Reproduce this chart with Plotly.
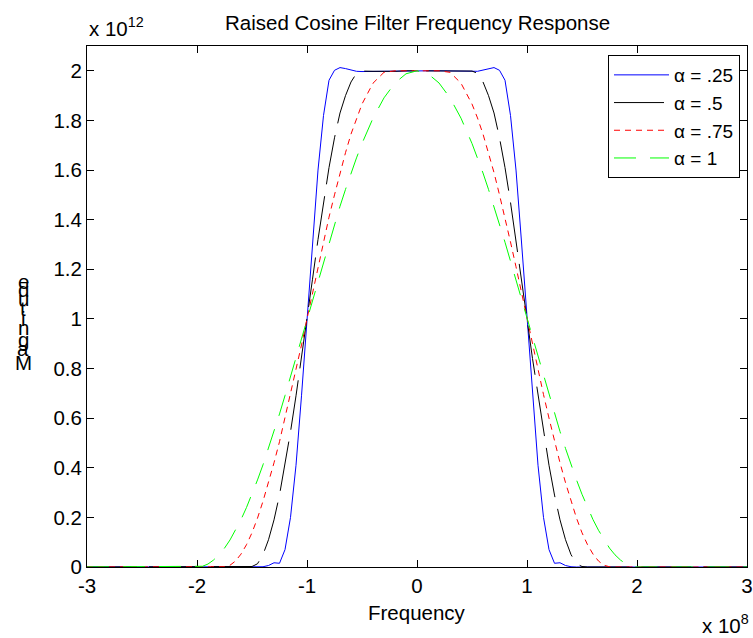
import plotly.graph_objects as go

# Frequency samples (units of 1e8 Hz), positive half; the response is symmetric
freq_half = [0, 0.1, 0.2, 0.3, 0.4, 0.5, 0.55, 0.6, 0.65, 0.7, 0.75, 0.8, 0.85, 0.9, 0.95,
             1.0, 1.05, 1.1, 1.15, 1.2, 1.25, 1.3, 1.35, 1.4, 1.45, 1.5, 1.55, 1.6, 1.65,
             1.7, 1.75, 1.8, 1.85, 1.9, 1.95, 2.0, 2.1, 2.5, 3.0]

# Magnitudes (units of 1e12)
mag_a025 = [2.0, 2.0, 2.0, 1.999, 1.998, 1.997, 1.998, 2.003, 2.009, 2.013, 2.002, 1.962, 1.82,
            1.60, 1.31, 1.0, 0.69, 0.41, 0.20, 0.07, 0.015, 0.017, 0.006, 0.001,
            0, 0, 0, 0, 0, 0, 0, 0, 0, 0, 0, 0, 0, 0, 0]
mag_a05 = [2.0, 2.0, 1.998, 1.997, 1.998, 1.999, 1.99, 1.955, 1.90, 1.83, 1.73, 1.61, 1.47,
           1.32, 1.16, 1.0, 0.84, 0.69, 0.545, 0.41, 0.29, 0.19, 0.11, 0.05, 0.013, 0.002,
           0, 0, 0, 0, 0, 0, 0, 0, 0, 0, 0, 0, 0]
mag_a075 = [2.0, 2.0, 2.0, 1.994, 1.95, 1.866, 1.81, 1.745, 1.67, 1.59, 1.50, 1.41, 1.31,
            1.21, 1.105, 1.0, 0.895, 0.795, 0.695, 0.60, 0.505, 0.42, 0.34, 0.265, 0.197,
            0.138, 0.09, 0.052, 0.024, 0.007, 0.001, 0, 0, 0, 0, 0, 0, 0, 0]
mag_a1 = [2.0, 1.988, 1.951, 1.891, 1.809, 1.707, 1.649, 1.588, 1.522, 1.454, 1.383, 1.309,
          1.233, 1.156, 1.078, 1.0, 0.922, 0.844, 0.767, 0.691, 0.617, 0.546, 0.478, 0.412,
          0.351, 0.293, 0.240, 0.191, 0.148, 0.109, 0.076, 0.049, 0.028, 0.012, 0.003,
          0.0, 0, 0, 0]

series_names = ["α = .25", "α = .5", "α = .75", "α = 1"]
series_vals = [mag_a025, mag_a05, mag_a075, mag_a1]
series_colors = ["rgb(0,0,255)", "rgb(0,0,0)", "rgb(255,0,0)", "rgb(0,255,0)"]
series_dash = ["solid", "50px,12px", "6px,5px", "22px,14px"]

x_ticks = [-3, -2, -1, 0, 1, 2, 3]
x_ticktext = ["-3", "-2", "-1", "0", "1", "2", "3"]
y_ticks = [0, 0.2, 0.4, 0.6, 0.8, 1.0, 1.2, 1.4, 1.6, 1.8, 2.0]
y_ticktext = ["0", "0.2", "0.4", "0.6", "0.8", "1", "1.2", "1.4", "1.6", "1.8", "2"]

FONT = "Liberation Sans, Arial, sans-serif"
FS = 20.5


def mirror_x(h):
    return [-v for v in h[::-1]] + h[1:]


def mirror_y(h):
    return h[::-1] + h[1:]


fig = go.Figure()
xs = mirror_x(freq_half)
for name, vals, col, dsh in zip(series_names, series_vals, series_colors, series_dash):
    fig.add_trace(go.Scatter(x=xs, y=mirror_y(vals), mode="lines", name=name,
                             line=dict(color=col, width=1, dash=dsh)))

axis_common = dict(showline=True, linecolor="black", linewidth=1, mirror="ticks",
                   ticks="inside", ticklen=7, tickcolor="black", tickwidth=1,
                   showgrid=False, zeroline=False, layer="below traces",
                   tickfont=dict(family=FONT, size=FS, color="black"))

fig.update_layout(
    width=753, height=638,
    margin=dict(l=87, r=6, t=46, b=71, autoexpand=False),
    paper_bgcolor="white", plot_bgcolor="white",
    font=dict(family=FONT, size=FS, color="black"),
    showlegend=True,
    legend=dict(x=0.9894, y=0.9827, xanchor="right", yanchor="top",
                bordercolor="black", borderwidth=1, bgcolor="white",
                font=dict(family=FONT, size=19, color="black"),
                itemwidth=55, tracegroupgap=0),
    xaxis=dict(range=[-3, 3], tickvals=x_ticks, ticktext=x_ticktext, **axis_common),
    yaxis=dict(range=[0, 2.1], tickvals=y_ticks, ticktext=y_ticktext, **axis_common),
)

ann = []
ann.append(dict(text="Raised Cosine Filter Frequency Response", x=0.5, y=1.046,
                xref="paper", yref="paper", xanchor="center", yanchor="middle",
                showarrow=False, font=dict(family=FONT, size=FS)))
ann.append(dict(text="Frequency", x=0.5, y=-0.088, xref="paper", yref="paper",
                xanchor="center", yanchor="middle", showarrow=False,
                font=dict(family=FONT, size=FS)))
ann.append(dict(text="x 10<sup>12</sup>", x=0.0, y=1.036, xref="paper", yref="paper",
                xanchor="left", yanchor="middle", showarrow=False,
                font=dict(family=FONT, size=FS)))
ann.append(dict(text="x 10<sup>8</sup>", x=1.006, y=-0.110, xref="paper", yref="paper",
                xanchor="right", yanchor="middle", showarrow=False,
                font=dict(family=FONT, size=FS)))
# Stacked y-axis label letters, as in the reference
ylabel_letters = list("Magnitude")
ylabel_px = [362, 349, 339, 328, 318, 308, 298, 289, 281]
for ch, py in zip(ylabel_letters, ylabel_px):
    ann.append(dict(text=ch, x=(23 - 87) / 660, y=(567 - py) / 521, xref="paper",
                    yref="paper", xanchor="center", yanchor="middle", showarrow=False,
                    font=dict(family=FONT, size=FS)))
fig.update_layout(annotations=ann)

fig.write_html("out.html")
